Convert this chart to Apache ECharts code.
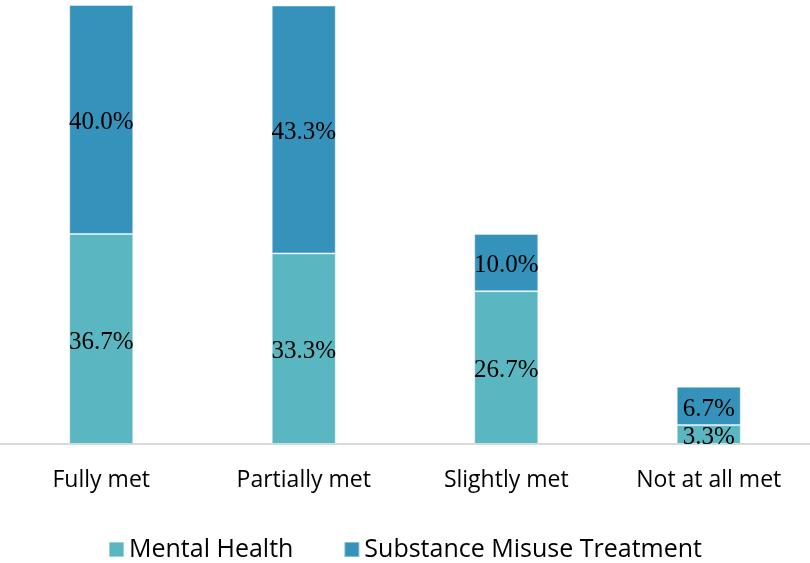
<!DOCTYPE html>
<html>
<head>
<meta charset="utf-8">
<script src="https://cdn.jsdelivr.net/npm/echarts@6/dist/echarts.min.js"></script>
<style>
  html, body { margin: 0; padding: 0; background: #fff; }
  #chart { width: 810px; height: 563px; }
</style>
</head>
<body>
<div id="chart"></div>
<script>
// 数据
var categories = ['Fully met', 'Partially met', 'Slightly met', 'Not at all met'];
var mentalHealth = [36.7, 33.3, 26.7, 3.3];
var substanceMisuse = [40.0, 43.3, 10.0, 6.7];

var chart = echarts.init(document.getElementById('chart'));

var labelStyle = {
    show: true,
    position: 'inside',
    offset: [0, 3],
    color: '#000',
    fontFamily: 'Liberation Serif',
    fontSize: 25,
    formatter: function (p) { return p.value.toFixed(1) + '%'; }
};

var option = {
    animation: false,
    grid: { left: 0, right: 0, top: 5, bottom: 119 },
    legend: {
        bottom: -4,
        left: 'center',
        itemWidth: 15,
        itemHeight: 15,
        itemGap: 50,
        itemTextGap: 5,
        icon: 'rect',
        textStyle: { fontFamily: 'Open Sans', fontSize: 25, color: '#000' },
        data: ['Mental Health', 'Substance Misuse Treatment']
    },
    xAxis: {
        type: 'category',
        data: categories,
        axisLine: { lineStyle: { color: '#d9d9d9', width: 2 } },
        axisTick: { show: false },
        axisLabel: { color: '#000', fontFamily: 'Open Sans', fontSize: 23, margin: 25 }
    },
    yAxis: {
        type: 'value',
        min: 0,
        max: 76.7,
        show: false
    },
    series: [
        {
            name: 'Mental Health',
            type: 'bar',
            stack: 'total',
            barWidth: 64,
            data: mentalHealth,
            itemStyle: { color: '#5ab6c0', borderColor: 'rgba(255,255,255,0.4)', borderWidth: 1 },
            label: labelStyle
        },
        {
            name: 'Substance Misuse Treatment',
            type: 'bar',
            stack: 'total',
            barWidth: 64,
            data: substanceMisuse,
            itemStyle: { color: '#3593bb', borderColor: 'rgba(255,255,255,0.4)', borderWidth: 1 },
            label: labelStyle
        }
    ]
};

chart.setOption(option);
</script>
</body>
</html>
